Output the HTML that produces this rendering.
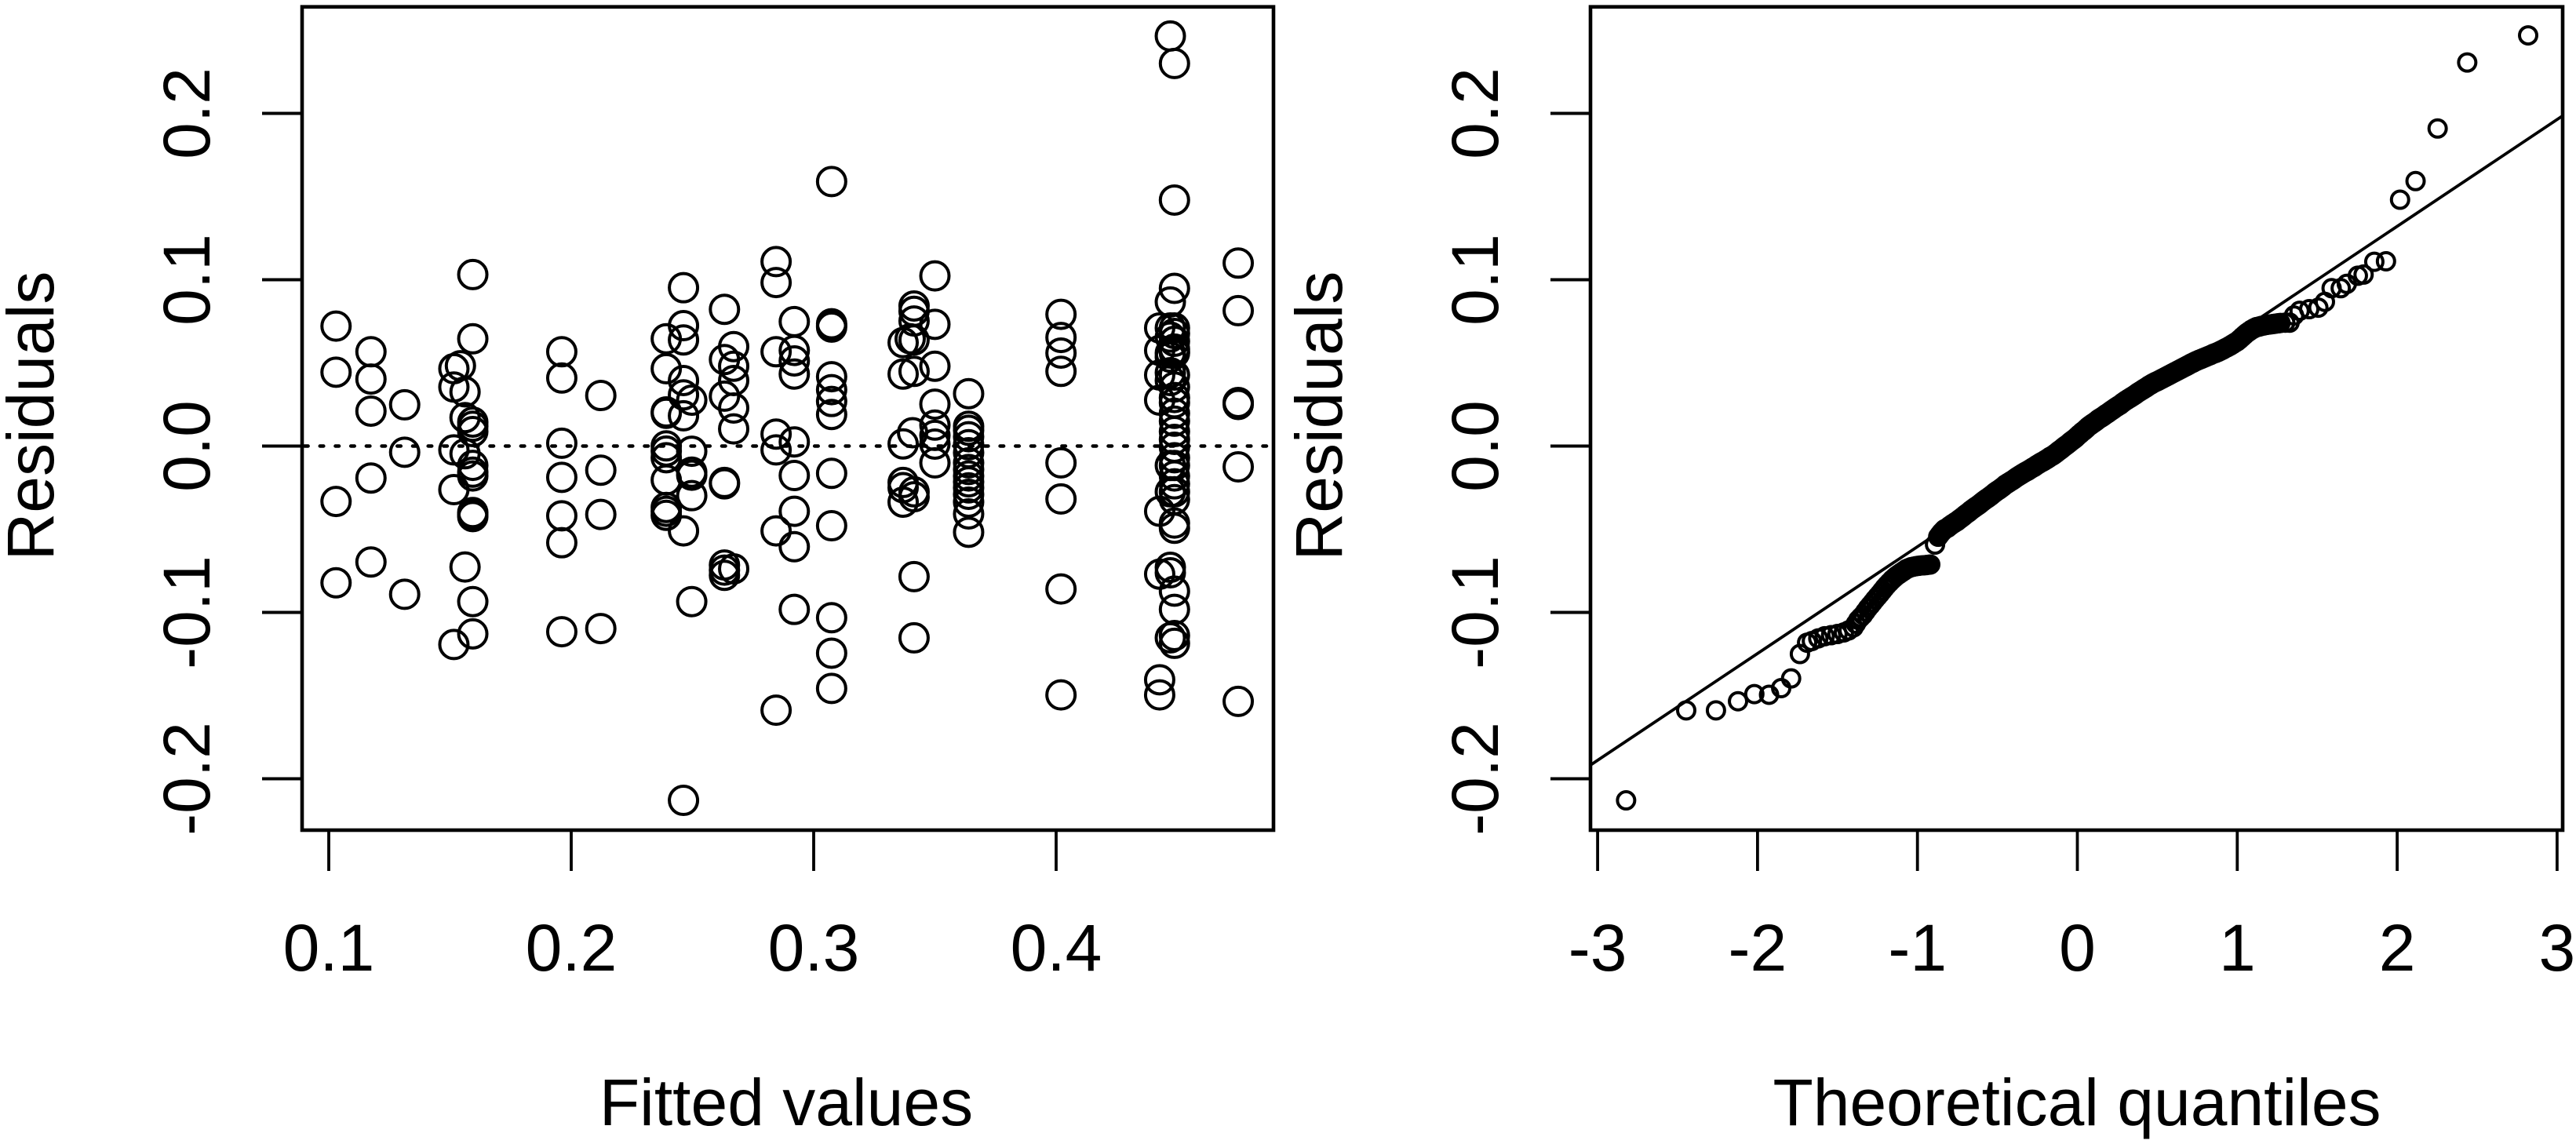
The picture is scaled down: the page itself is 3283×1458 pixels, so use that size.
<!DOCTYPE html>
<html lang="en">
<head>
<meta charset="utf-8">
<title>Residual diagnostics</title>
<style>
html,body{margin:0;padding:0;background:#fff;}
svg{display:block;}
text{font-family:"Liberation Sans",Arial,sans-serif;font-size:84px;fill:#000;}
</style>
</head>
<body>
<svg id="chart" xmlns="http://www.w3.org/2000/svg" width="3283" height="1458" viewBox="0 0 3283 1458">
  <rect x="0" y="0" width="3283" height="1458" fill="#fff"/>
  <g id="left-panel"></g>
  <g id="right-panel"></g>
  <text x="1002" y="1434" text-anchor="middle">Fitted values</text>
  <text x="68" y="530" text-anchor="middle" transform="rotate(-90 68 530)">Residuals</text>
  <text x="2647" y="1434" text-anchor="middle">Theoretical quantiles</text>
  <text x="1710" y="530" text-anchor="middle" transform="rotate(-90 1710 530)">Residuals</text>
</svg>
<script>
const fittedTicks = [0.1, 0.2, 0.3, 0.4];
const fittedTickLabels = ["0.1", "0.2", "0.3", "0.4"];
const residualTicks = [-0.2, -0.1, 0, 0.1, 0.2];
const residualTickLabels = ["-0.2", "-0.1", "0.0", "0.1", "0.2"];
const quantileTicks = [-3, -2, -1, 0, 1, 2, 3];
const quantileTickLabels = ["-3", "-2", "-1", "0", "1", "2", "3"];

const fittedValues = [
.103,.103,.103,.103,
.1174,.1174,.1174,.1174,.1174,
.1313,.1313,.1313,
.1516,.1516,.1516,.1516,.1516,
.1543,
.1562,.1562,.1562,.1562,
.1594,.1594,.1594,.1594,.1594,.1594,.1594,.1594,.1594,.1594,.1594,.1594,.1594,
.1961,.1961,.1961,.1961,.1961,.1961,.1961,
.2122,.2122,.2122,.2122,
.2392,.2392,.2392,.2392,.2392,.2392,.2392,.2392,.2392,.2392,.2392,
.2463,.2463,.2463,.2463,.2463,.2463,.2463,.2463,
.2497,.2497,.2497,.2497,.2497,.2497,
.2632,.2632,.2632,.2632,.2632,.2632,.2632,.2632,
.267,.267,.267,.267,.267,.267,
.2845,.2845,.2845,.2845,.2845,.2845,.2845,
.292,.292,.292,.292,.292,.292,.292,.292,.292,
.3074,.3074,.3074,.3074,.3074,.3074,.3074,.3074,.3074,.3074,.3074,.3074,.3074,
.3369,.3369,.3369,.3369,.3369,.3369,
.3414,.3414,.3414,.3414,.3414,.3414,.3414,.3414,.3414,
.3408,
.3398,
.35,.35,.35,.35,.35,.35,.35,.35,
.3639,.3639,.3639,.3639,.3639,.3639,.3639,.3639,.3639,.3639,.3639,.3639,.3639,.3639,.3639,
.402,.402,.402,.402,.402,.402,.402,.402,
.4427,.4427,.4427,.4427,.4427,.4427,.4427,.4427,
.4488,.4488,.4488,.4488,.4488,.4488,.4488,.4488,.4488,.4488,.4488,.4488,.4488,.4488,.4488,.4488,.4488,.4488,.4488,.4488,.4488,.4488,.4488,.4488,.4488,.4488,.4488,.4488,.4488,.4488,
.4471,.4471,.4471,.4471,.4471,.4471,.4471,.4471,.4471,.4471,.4471,.4471,.4471,
.4751,.4751,.4751,.4751,.4751,.4751
];
const residuals = [
.0721,.0444,-.0333,-.0822,
.0567,.0403,.021,-.0192,-.0697,
.0248,-.0037,-.0891,
.0465,.0355,-.0023,-.0262,-.1193,
.0483,
.0326,.0171,-.0046,-.0727,
.1031,.0645,.0119,.0087,.0144,-.0116,-.0157,-.018,-.04,-.0413,-.0424,-.0935,-.1129,
.0567,.0409,.0017,-.0188,-.0419,-.0581,-.1116,
.0304,-.0145,-.0411,-.1097,
.0645,.0465,.0205,.0197,.0001,-.003,-.007,-.0204,-.0369,-.0392,-.0416,
.0952,.0724,.0638,.0394,.0308,.0182,-.051,-.213,
.0276,-.0031,-.0157,-.0175,-.0298,-.0935,
.0822,.052,.03,-.0219,-.0227,-.0715,-.0746,-.0777,
.0598,.048,.0394,.0229,.0103,-.0738,
.1109,.0983,.0567,.0072,-.0023,-.051,-.1588,
.0748,.0575,.0512,.0433,.0025,-.0177,-.0392,-.0605,-.0982,
.159,.0735,.0724,.0715,.0417,.0339,.0268,.019,-.0164,-.0479,-.1032,-.1245,-.1457,
.0622,.0433,.0013,-.0219,-.025,-.0337,
.0842,.081,.0752,.0638,.0449,-.0275,-.0305,-.0785,-.1153,
.008,
.0645,
.1023,.0732,.048,.0252,.0126,.0064,.0012,-.0101,
.0315,.0119,.0095,.0056,.0008,-.004,-.0101,-.0141,-.018,-.0215,-.0251,-.029,-.0337,-.0408,-.0518,
.0792,.0653,.0559,.0449,-.0101,-.0318,-.0859,-.1496,
.071,.0575,.0427,.0276,-.0392,-.077,-.1405,-.1496,
.23,.1479,.0948,.071,.0677,.063,.0583,.0567,.0559,.0427,.0355,.0292,.026,.0197,.015,.0087,.004,-.0007,-.007,-.0117,-.018,-.0227,-.0275,-.0322,-.0463,-.0494,-.0872,-.0982,-.1139,-.1186,
.2465,.0866,.071,.0655,.0559,.0534,.0441,.0394,-.0117,-.0275,-.0729,-.0762,-.1153,
.110,.0814,.0262,.025,-.0125,-.1535
];

const theoreticalQuantiles = [
-2.822,-2.446,-2.26,-2.122,-2.02,-1.928,-1.852,-1.79,-1.735,-1.69,
-1.66,-1.62,-1.58,-1.54,-1.50,-1.46,-1.43,-1.40,-1.37,-1.34,-1.31,-1.28,-1.25,-1.22,-1.19,-1.16,-1.13,-1.10,-1.07,-1.04,-1.01,-.98,-.95,-.92,
-.89,-.87,-.85,-.83,-.81,-.79,-.77,-.75,-.73,-.71,-.69,-.67,-.65,-.63,-.61,-.59,-.57,-.55,-.53,-.51,-.49,-.47,-.45,-.43,-.41,-.39,-.37,-.35,-.33,-.31,-.29,-.27,-.25,-.23,-.21,-.19,-.17,-.15,-.13,-.11,-.09,-.07,-.05,-.03,-.01,
.01,.03,.05,.07,.09,.11,.13,.15,.17,.19,.21,.23,.25,.27,.29,.31,.33,.35,.37,.39,.41,.43,.45,.47,.49,.51,.53,.55,.57,.59,.61,.63,.65,.67,.69,.71,.73,
.76,.79,.82,.85,.88,.91,.94,.97,1.00,1.03,1.06,1.09,1.12,1.15,1.18,1.21,1.24,1.27,1.30,
1.327,1.355,1.39,1.45,1.507,1.548,1.59,1.647,1.685,1.754,1.79,1.857,1.93,2.018,2.115,2.253,2.438,2.819,
-1.385,-1.355,-1.325,-1.295,-1.265,-1.235,-1.205,-1.175,-1.145,-1.115,-1.085,-1.055,-1.025,-.995,-.965,-.935,
-.86,-.84,-.82,-.80,-.78,-.76,-.74,-.72,-.70,-.68,-.66,-.64,-.62,-.60,-.58,-.56,-.54,-.52,-.50,-.48,-.46,-.44,-.42,-.40,-.38,-.36,-.34,-.32,-.30,-.28,-.26,-.24,-.22,-.20,-.18,-.16,-.14,-.12,-.10,-.08,-.06,-.04,-.02,0,
.02,.04,.06,.08,.10,.12,.14,.16,.18,.20,.22,.24,.26,.28,.30,.32,.34,.36,.38,.40,.42,.44,.46,.48,.50,.52,.54,.56,.58,.60,.62,.64,.66,.68,.70,.72,
.745,.775,.805,.835,.865,.895,.925,.955,.985,1.015,1.045,1.075,1.105,1.135,1.165,1.195,1.225,1.255
];
const sampleQuantiles = [
-.213,-.1589,-.1589,-.1534,-.1491,-.1495,-.1455,-.1397,-.125,-.1182,
-.1172,-.1156,-.1143,-.1137,-.113,-.112,-.1108,-.109,-.1045,-.1015,-.0975,-.094,-.0905,-.087,-.0835,-.0805,-.078,-.076,-.074,-.0728,-.0722,-.0718,-.0716,-.0712,
-.0592,-.0545,-.052,-.05,-.049,-.0475,-.0462,-.045,-.0435,-.042,-.0405,-.039,-.0375,-.0362,-.0348,-.0332,-.0318,-.0305,-.029,-.0275,-.0262,-.0248,-.0232,-.022,-.0208,-.0195,-.0182,-.017,-.0158,-.0148,-.0136,-.0125,-.0112,-.01,-.009,-.0078,-.0065,-.0054,-.004,-.0025,-.001,.0005,.002,.0035,.005,
.0068,.0085,.01,.0118,.0132,.0145,.016,.0172,.0185,.0198,.0212,.0225,.0238,.025,.0265,.0278,.029,.0302,.0315,.0328,.034,.0352,.0365,.0376,.0386,.0395,.0405,.0415,.0425,.0435,.0445,.0455,.0465,.0475,.0485,.0496,.0505,
.0518,.053,.0542,.0555,.0566,.058,.0595,.0612,.063,.0655,.068,.07,.0715,.0722,.0728,.0732,.0736,.074,.0742,
.0742,.0785,.0813,.0823,.0832,.0867,.0949,.0949,.0975,.1024,.1031,.1108,.1111,.1481,.1593,.1909,.2306,.2469,
-.1068,-.103,-.0995,-.0958,-.0922,-.0888,-.0852,-.082,-.0792,-.077,-.075,-.0734,-.0725,-.072,-.0717,-.0714,
-.0532,-.051,-.0495,-.0482,-.0468,-.0456,-.0442,-.0428,-.0412,-.0398,-.0382,-.0368,-.0355,-.034,-.0325,-.0312,-.0298,-.0282,-.0268,-.0255,-.024,-.0226,-.0214,-.0202,-.0188,-.0176,-.0164,-.0153,-.0142,-.013,-.0118,-.0106,-.0095,-.0084,-.0072,-.006,-.0047,-.0032,-.0018,-.0002,.0012,.0028,.0042,.0059,
.0076,.0092,.0109,.0125,.0138,.0152,.0166,.0178,.0192,.0205,.0218,.0232,.0244,.0258,.0272,.0284,.0296,.0308,.0322,.0334,.0346,.0358,.037,.0381,.039,.04,.041,.042,.043,.044,.045,.046,.047,.048,.049,.05,
.0512,.0524,.0536,.0548,.056,.0573,.0588,.0603,.0621,.0642,.0668,.069,.0708,.0718,.0725,.073,.0734,.0738
];
const qqLineIntercept = 0.0037;
const qqLineSlope = 0.0642;
const zeroReference = 0;

const SVG_NS = "http://www.w3.org/2000/svg";
const BOX_TOP = 8.7, BOX_BOTTOM = 1058;
const LEFT_BOX = {x0: 385, x1: 1623};
const RIGHT_BOX = {x0: 2027, x1: 3266};

function yScale(v) { return 568.5 - v * 2120; }
function xFitted(v) { return 419 + (v - 0.1) * 3090; }
function xQuantile(v) { return 2647.5 + v * 203.8; }
function quantileFromPx(px) { return (px - 2647.5) / 203.8; }

function svgEl(tag, attrs, parent) {
  const el = document.createElementNS(SVG_NS, tag);
  for (const k in attrs) el.setAttribute(k, attrs[k]);
  parent.appendChild(el);
  return el;
}

function drawFrame(parent, box, xTicks, xLabels, xFn, labelOffset) {
  const frame = svgEl("rect", {x: box.x0, y: BOX_TOP, width: box.x1 - box.x0, height: BOX_BOTTOM - BOX_TOP, fill: "none", stroke: "#000", "stroke-width": 4.6}, parent);
  
  

  xTicks.forEach(function (t, i) {
    const px = xFn(t);
    const tick = svgEl("line", {x1: px, x2: px, y1: BOX_BOTTOM, y2: 1110, stroke: "#000", "stroke-width": 3.8}, parent);
    
    
    const lab = svgEl("text", {x: px, y: 1237, "text-anchor": "middle"}, parent);
    lab.textContent = xLabels[i];
    
    
  });

  residualTicks.forEach(function (t, i) {
    const py = yScale(t);
    const tick = svgEl("line", {x1: box.x0 - 51, x2: box.x0, y1: py, y2: py, stroke: "#000", "stroke-width": 4}, parent);
    
    
    const lx = box.x0 - labelOffset;
    const lab = svgEl("text", {x: lx, y: py, "text-anchor": "middle", transform: "rotate(-90 " + lx + " " + py + ")"}, parent);
    lab.textContent = residualTickLabels[i];
    
    
  });
}

const leftPanel = document.getElementById("left-panel");
const rightPanel = document.getElementById("right-panel");

drawFrame(leftPanel, LEFT_BOX, fittedTicks, fittedTickLabels, xFitted, 118);
drawFrame(rightPanel, RIGHT_BOX, quantileTicks, quantileTickLabels, xQuantile, 118);

const zeroLine = svgEl("line", {x1: LEFT_BOX.x0 + 3, x2: LEFT_BOX.x1 - 3, y1: yScale(zeroReference), y2: yScale(zeroReference), stroke: "#000", "stroke-width": 4.4, "stroke-linecap": "round", "stroke-dasharray": "4.7 15"}, leftPanel);



fittedValues.forEach(function (f, i) {
  const c = svgEl("circle", {cx: xFitted(f), cy: yScale(residuals[i]), r: 18, fill: "none", stroke: "#000", "stroke-width": 4}, leftPanel);
  
  
});

const qMin = quantileFromPx(RIGHT_BOX.x0);
const qMax = quantileFromPx(RIGHT_BOX.x1);
const qqLine = svgEl("line", {x1: xQuantile(qMin), x2: xQuantile(qMax), y1: yScale(qqLineIntercept + qqLineSlope * qMin), y2: yScale(qqLineIntercept + qqLineSlope * qMax), stroke: "#000", "stroke-width": 3.8}, rightPanel);



theoreticalQuantiles.forEach(function (q, i) {
  const c = svgEl("circle", {cx: xQuantile(q), cy: yScale(sampleQuantiles[i]), r: 11, fill: "none", stroke: "#000", "stroke-width": 4}, rightPanel);
  
  
});
</script>
</body>
</html>
